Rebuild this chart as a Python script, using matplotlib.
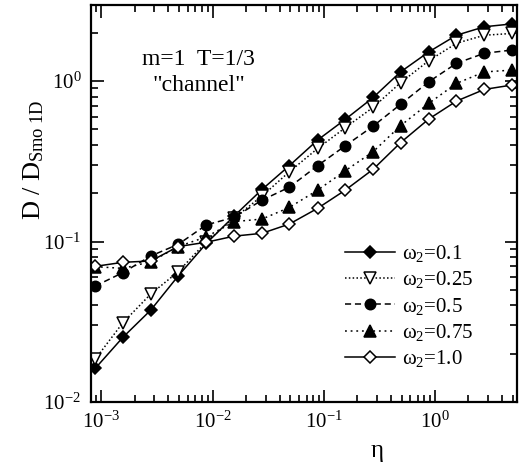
import matplotlib
matplotlib.use("Agg")
import matplotlib.pyplot as plt
from matplotlib.ticker import LogLocator, FixedLocator, NullFormatter

plt.rcParams['font.family'] = ['Liberation Serif', 'DejaVu Serif']
plt.rcParams['mathtext.fontset'] = 'stix'

eta = [0.00088, 0.00156, 0.00278, 0.0049, 0.0088, 0.0156, 0.0278, 0.049,
       0.088, 0.156, 0.278, 0.49, 0.88, 1.56, 2.78, 4.9]

d_w010 = [0.0162, 0.0253, 0.0374, 0.061, 0.0975, 0.144, 0.211, 0.297,
          0.429, 0.577, 0.79, 1.14, 1.52, 1.93, 2.18, 2.27]
d_w025 = [0.0185, 0.0312, 0.0471, 0.0648, 0.0997, 0.140, 0.192, 0.272,
          0.38, 0.512, 0.686, 0.976, 1.34, 1.72, 1.93, 1.98]
d_w050 = [0.0528, 0.064, 0.0813, 0.096, 0.127, 0.1415, 0.181, 0.218,
          0.297, 0.395, 0.524, 0.716, 0.99, 1.29, 1.49, 1.56]
d_w075 = [0.0697, 0.068, 0.0748, 0.093, 0.107, 0.133, 0.138, 0.163,
          0.209, 0.276, 0.363, 0.527, 0.726, 0.967, 1.14, 1.17]
d_w100 = [0.070, 0.0742, 0.0756, 0.093, 0.099, 0.108, 0.1125, 0.1285,
          0.161, 0.209, 0.282, 0.413, 0.58, 0.75, 0.887, 0.944]

labels = [r'$\mathregular{\omega_2}$=0.1', r'$\mathregular{\omega_2}$=0.25',
          r'$\mathregular{\omega_2}$=0.5', r'$\mathregular{\omega_2}$=0.75',
          r'$\mathregular{\omega_2}$=1.0']

fig = plt.figure(figsize=(5.19, 4.74), dpi=100)
ax = fig.add_axes([0.1753, 0.152, 0.8207, 0.837])

styles = [
    dict(ls='-', marker='D', mfc='black', mec='black', ms=6.5),
    dict(ls=(0, (1, 1.5)), marker='v', mfc='white', mec='black', ms=8),
    dict(ls=(0, (4, 2.5)), marker='o', mfc='black', mec='black', ms=7.5),
    dict(ls=(0, (1.2, 2.5)), marker='^', mfc='black', mec='black', ms=8),
    dict(ls='-', marker='D', mfc='white', mec='black', ms=6.5),
]
series = [d_w010, d_w025, d_w050, d_w075, d_w100]
for ys, st, lab in zip(series, styles, labels):
    ax.plot(eta, ys, color='black', lw=1.1, mew=1.1, label=lab, **st)

ax.set_xscale('log')
ax.set_yscale('log')
ax.set_xlim(8.05e-4, 5.46)
ax.set_ylim(1e-2, 2.97)

ax.xaxis.set_major_locator(FixedLocator([1e-3, 1e-2, 1e-1, 1e0]))
ax.xaxis.set_minor_locator(LogLocator(base=10, subs=range(2, 10), numticks=20))
ax.yaxis.set_major_locator(FixedLocator([1e-2, 1e-1, 1e0]))
ax.yaxis.set_minor_locator(LogLocator(base=10, subs=range(2, 10), numticks=20))
ax.xaxis.set_minor_formatter(NullFormatter())
ax.yaxis.set_minor_formatter(NullFormatter())
ax.set_xticklabels([r'$\mathregular{10^{-3}}$', r'$\mathregular{10^{-2}}$',
                    r'$\mathregular{10^{-1}}$', r'$\mathregular{10^{0}}$'])
ax.set_yticklabels([r'$\mathregular{10^{-2}}$', r'$\mathregular{10^{-1}}$',
                    r'$\mathregular{10^{0}}$'])

ax.tick_params(which='both', direction='in', top=True, right=True, width=1.2,
               labelsize=15, pad=7)
ax.tick_params(which='major', length=9)
ax.tick_params(which='minor', length=5)
for s in ax.spines.values():
    s.set_linewidth(1.6)

ax.set_xlabel(r'$\mathregular{\eta}$', fontsize=18)
ax.xaxis.set_label_coords(0.671, -0.1)
ax.set_ylabel(r'$\mathregular{D\ /\ D_{Smo\ 1D}}$', fontsize=19)
ax.yaxis.set_label_coords(-0.105, 0.61)

ax.text(0.12, 0.85, 'm=1  T=1/3', transform=ax.transAxes, fontsize=17)
ax.text(0.145, 0.785, '"channel"', transform=ax.transAxes, fontsize=17)

leg = ax.legend(loc='lower left', bbox_to_anchor=(0.596, 0.083), frameon=False,
                fontsize=15, handlelength=2.4, labelspacing=0.25,
                handletextpad=0.35, borderpad=0, borderaxespad=0)

fig.savefig('out.png', dpi=100)
